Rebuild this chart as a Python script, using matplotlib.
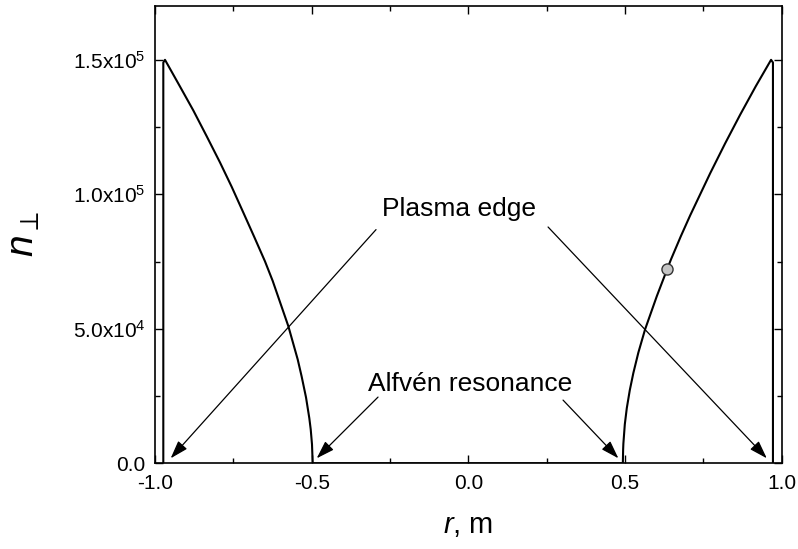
import matplotlib
matplotlib.use("Agg")
import matplotlib.pyplot as plt
from matplotlib.ticker import MultipleLocator

plt.rcParams['font.family'] = ['Liberation Sans', 'DejaVu Sans']
plt.rcParams['mathtext.fontset'] = 'custom'
plt.rcParams['mathtext.rm'] = 'Liberation Sans'
plt.rcParams['mathtext.it'] = 'Liberation Sans:italic'
plt.rcParams['mathtext.fallback'] = 'cm'

# ---- data ----
left_r = [-0.9734, -0.9734, -0.968, -0.9234, -0.8777, -0.835, -0.7925, -0.7552,
          -0.718, -0.683, -0.649, -0.6243, -0.5745, -0.5445, -0.532, -0.518,
          -0.5075, -0.503, -0.4989, -0.4967]
left_n = [0, 149000, 150000, 140750, 131200, 121600, 111850, 102800,
          93200, 84100, 75100, 67800, 51000, 38600, 32300, 24500,
          16800, 12600, 7000, 0]
mid_r = [-0.4967, 0.493]
mid_n = [0, 0]
right_r = [0.493, 0.4939, 0.4947, 0.4993, 0.5056, 0.5152, 0.5266, 0.5426, 0.564,
           0.6013, 0.6352, 0.647, 0.678, 0.7076, 0.7716, 0.8193, 0.8674, 0.9173,
           0.966, 0.972, 0.972]
right_n = [0, 5000, 7300, 14500, 20500, 27200, 33600, 41200, 49800,
           62100, 72400, 75900, 84400, 92100, 107800, 118900, 129600, 140200,
           150000, 149000, 0]
marker_r = [0.6352]
marker_n = [72400]

xticks = [-1.0, -0.5, 0.0, 0.5, 1.0]
xticklabels = ['-1.0', '-0.5', '0.0', '0.5', '1.0']
yticks = [0, 5e4, 1e5, 1.5e5]
yticklabels = ['0.0', r'$\mathregular{5.0x10^{4}}$', r'$\mathregular{1.0x10^{5}}$',
               r'$\mathregular{1.5x10^{5}}$']

fig = plt.figure(figsize=(7.98, 5.49), dpi=100)
ax = fig.add_axes([0.1942, 0.1561, 0.9796 - 0.1942, 0.989 - 0.1561])

r_all = left_r + mid_r + right_r
n_all = left_n + mid_n + right_n
ax.plot(r_all, n_all, color='black', lw=1.5, solid_joinstyle='round')
ax.plot(marker_r, marker_n, 'o', ms=8, mfc='#c4c4c4', mec='#333333', mew=1.0)

ax.set_xlim(-1.0, 1.0)
ax.set_ylim(0, 1.7e5)
ax.set_xticks(xticks)
ax.set_xticklabels(xticklabels)
ax.set_yticks(yticks)
ax.set_yticklabels(yticklabels)
ax.xaxis.set_minor_locator(MultipleLocator(0.25))
ax.yaxis.set_minor_locator(MultipleLocator(2.5e4))
ax.tick_params(which='both', direction='in', top=True, right=True, width=1.0)
ax.tick_params(which='major', length=6, labelsize=15)
ax.tick_params(axis='x', which='major', pad=8)
ax.tick_params(axis='y', which='major', pad=7)
ax.tick_params(which='minor', length=3.5)
for s in ax.spines.values():
    s.set_linewidth(1.2)

ax.set_xlabel(r'$\mathit{r}$, m', fontsize=21, labelpad=13)
ax.set_ylabel(r'$n_{\perp}$', fontsize=28, labelpad=22)

ap = dict(arrowstyle='-|>,head_length=0.55,head_width=0.18', color='black',
          lw=0.9, shrinkA=0, shrinkB=0, mutation_scale=20)
ax.text(-0.0297, 91930, 'Plasma edge', fontsize=19, ha='center', va='baseline')
ax.annotate('', xy=(-0.9499, 1860), xytext=(-0.2946, 86880), arrowprops=ap)
ax.annotate('', xy=(0.9524, 1860), xytext=(0.2544, 87850), arrowprops=ap)
ax.text(0.0054, 26880, 'Alfvén resonance', fontsize=19, ha='center', va='baseline')
ax.annotate('', xy=(-0.4839, 1860), xytext=(-0.2882, 24620), arrowprops=ap)
ax.annotate('', xy=(0.4788, 1860), xytext=(0.3022, 23500), arrowprops=ap)

fig.savefig('out.png', dpi=100)
